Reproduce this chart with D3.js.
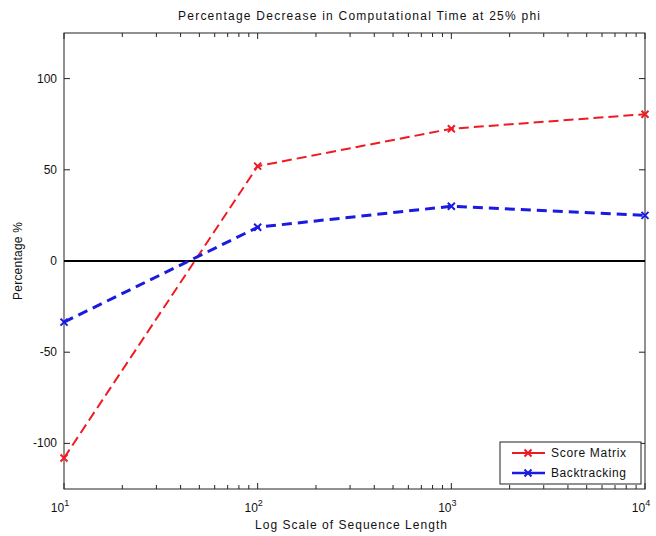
<!DOCTYPE html>
<meta charset="utf-8">
<script src="https://cdn.jsdelivr.net/npm/d3@7/dist/d3.min.js"></script>
<style>
  body { margin: 0; background: #fff; }
  text { font-family: "Liberation Sans", Arial, sans-serif; fill: #111; }
</style>
<svg width="656" height="536"></svg>
<script>
// data
var lengths = [10, 100, 1000, 10000];
var scoreMatrix = [-108, 52, 72.5, 80.5];
var backtracking = [-33.5, 18.5, 30, 25];
var yTicks = [-100, -50, 0, 50, 100];
var xTicks = [10, 100, 1000, 10000];
var seriesNames = ["Score Matrix", "Backtracking"];

var svg = d3.select("svg"),
  margin = { top: 33, right: 11, bottom: 47, left: 64 },
  width = +svg.attr("width"),
  height = +svg.attr("height");

var x = d3.scaleLog().domain([10, 10000]).range([margin.left, width - margin.right]);
var y = d3.scaleLinear().domain([-125, 125]).range([height - margin.bottom, margin.top]);

var x0 = x.range()[0], x1 = x.range()[1], y0 = y.range()[0], y1 = y.range()[1];

// minor ticks on log axis
var minor = [];
[10, 100, 1000].forEach(function(d) {
  for (var k = 2; k <= 9; k++) minor.push(d * k);
});

var g = svg.append("g");

// box
g.append("rect")
  .attr("x", x0).attr("y", y1)
  .attr("width", x1 - x0).attr("height", y0 - y1)
  .attr("fill", "none").attr("stroke", "#222").attr("stroke-width", 1);

// x ticks (bottom and top, pointing in)
var xt = g.append("g").attr("stroke", "#222").attr("stroke-width", 1);
xTicks.forEach(function(d) {
  xt.append("line").attr("x1", x(d)).attr("x2", x(d)).attr("y1", y0).attr("y2", y0 - 6);
  xt.append("line").attr("x1", x(d)).attr("x2", x(d)).attr("y1", y1).attr("y2", y1 + 6);
});
minor.forEach(function(d) {
  xt.append("line").attr("x1", x(d)).attr("x2", x(d)).attr("y1", y0).attr("y2", y0 - 4);
  xt.append("line").attr("x1", x(d)).attr("x2", x(d)).attr("y1", y1).attr("y2", y1 + 4);
});

// y ticks (left and right)
yTicks.forEach(function(d) {
  xt.append("line").attr("x1", x0).attr("x2", x0 + 6).attr("y1", y(d)).attr("y2", y(d));
  xt.append("line").attr("x1", x1).attr("x2", x1 - 6).attr("y1", y(d)).attr("y2", y(d));
});

// y tick labels
g.selectAll(".ylab").data(yTicks).enter().append("text")
  .attr("x", x0 - 7).attr("y", function(d) { return y(d) + 4; })
  .attr("text-anchor", "end").attr("font-size", 12)
  .text(function(d) { return d; });

// x tick labels 10^n
xTicks.forEach(function(d) {
  var t = g.append("text")
    .attr("x", x(d) - 4).attr("y", y0 + 23)
    .attr("text-anchor", "middle").attr("font-size", 12);
  t.append("tspan").text("10");
  t.append("tspan").attr("dy", -6).attr("font-size", 9).text(Math.round(Math.log10(d)));
});

// zero line
g.append("line")
  .attr("x1", x0).attr("x2", x1).attr("y1", y(0)).attr("y2", y(0))
  .attr("stroke", "#000").attr("stroke-width", 2);

var series = [
  { name: seriesNames[0], values: scoreMatrix, color: "#ee1b22", width: 2, dash: "10,5" },
  { name: seriesNames[1], values: backtracking, color: "#1a1ae0", width: 3, dash: "10,6" }
];

var line = d3.line()
  .x(function(d, i) { return x(lengths[i]); })
  .y(function(d) { return y(d); });

function cross(sel, cx, cy, color, r) {
  sel.append("path")
    .attr("d", "M" + (cx - r) + "," + (cy - r) + "L" + (cx + r) + "," + (cy + r) +
      "M" + (cx - r) + "," + (cy + r) + "L" + (cx + r) + "," + (cy - r))
    .attr("stroke", color).attr("stroke-width", 2).attr("fill", "none");
}

series.forEach(function(s) {
  g.append("path").datum(s.values)
    .attr("d", line)
    .attr("fill", "none")
    .attr("stroke", s.color)
    .attr("stroke-width", s.width)
    .attr("stroke-dasharray", s.dash);
  s.values.forEach(function(v, i) {
    cross(g, x(lengths[i]), y(v), s.color, 3.5);
  });
});

// legend
var lg = g.append("g");
lg.append("rect")
  .attr("x", 500).attr("y", 442).attr("width", 141).attr("height", 42)
  .attr("fill", "#fff").attr("stroke", "#222").attr("stroke-width", 1);
series.forEach(function(s, i) {
  var ly = 453 + i * 20;
  lg.append("line").attr("x1", 512).attr("x2", 545).attr("y1", ly).attr("y2", ly)
    .attr("stroke", s.color).attr("stroke-width", s.width === 3 ? 2.5 : 2);
  cross(lg, 528, ly, s.color, 3.5);
  lg.append("text").attr("x", 551).attr("y", ly + 4).attr("font-size", 12)
    .attr("textLength", 75).attr("lengthAdjust", "spacing").text(s.name);
});

// titles
svg.append("text")
  .attr("x", 359).attr("y", 20)
  .attr("text-anchor", "middle").attr("font-size", 12)
  .attr("textLength", 362).attr("lengthAdjust", "spacing")
  .text("Percentage Decrease in Computational Time at 25% phi");

svg.append("text")
  .attr("x", 351).attr("y", 529)
  .attr("text-anchor", "middle").attr("font-size", 12)
  .attr("textLength", 192).attr("lengthAdjust", "spacing")
  .text("Log Scale of Sequence Length");

svg.append("text")
  .attr("transform", "translate(22," + 261 + ") rotate(-90)")
  .attr("text-anchor", "middle").attr("font-size", 12)
  .attr("textLength", 78).attr("lengthAdjust", "spacing")
  .text("Percentage %");
</script>
